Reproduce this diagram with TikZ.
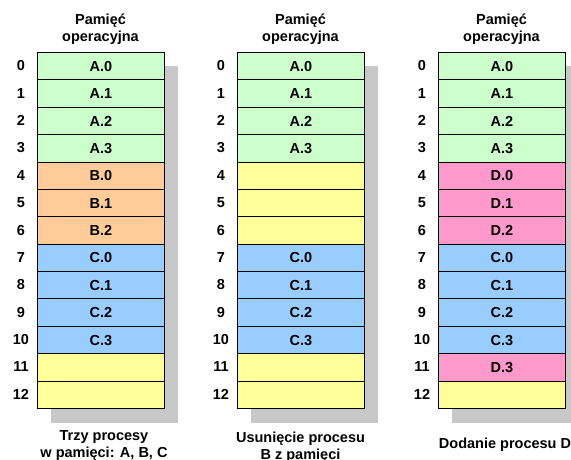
\documentclass[tikz,border=0pt]{standalone}
\usepackage{fontspec}
\setmainfont{Liberation Sans}
\definecolor{grn}{HTML}{CCFFCC}
\definecolor{org}{HTML}{FFCC99}
\definecolor{blu}{HTML}{99CCFF}
\definecolor{yel}{HTML}{FFFF99}
\definecolor{pnk}{HTML}{FF99CC}
\definecolor{shd}{HTML}{C8C8C8}
\newcommand\memcol[3]{%
  \fill[shd] (#2+14,66) rectangle (#2+141,423);
  \foreach \lab/\col [count=\i from 0] in {#3} {
    \node[cell, fill=\col] (#1r\i) at (#2, {52+\i*27.385}) {\lab};
    \node[num] (#1n\i) at (#2-16, {52+(\i+0.5)*27.385}) {\i};
  }
}
\begin{document}
\begin{tikzpicture}[x=1pt,y=-1pt,
  cell/.style={draw=black, line width=1pt, minimum width=127pt, minimum height=27.385pt,
    inner sep=0pt, anchor=north west, font=\bfseries\fontsize{14.5}{16}\selectfont},
  num/.style={inner sep=0pt, font=\bfseries\fontsize{14.5}{16}\selectfont},
  head/.style={align=center, inner sep=0pt, font=\bfseries\fontsize{14.5}{17}\selectfont}]
\useasboundingbox (0,0) rectangle (571,459);
\memcol{a}{37}{A.0/grn,A.1/grn,A.2/grn,A.3/grn,B.0/org,B.1/org,B.2/org,C.0/blu,C.1/blu,C.2/blu,C.3/blu,{}/yel,{}/yel}
\memcol{b}{237}{A.0/grn,A.1/grn,A.2/grn,A.3/grn,{}/yel,{}/yel,{}/yel,C.0/blu,C.1/blu,C.2/blu,C.3/blu,{}/yel,{}/yel}
\memcol{c}{438}{A.0/grn,A.1/grn,A.2/grn,A.3/grn,D.0/pnk,D.1/pnk,D.2/pnk,C.0/blu,C.1/blu,C.2/blu,C.3/blu,D.3/pnk,{}/yel}
\node[head] (ha) at (100.5,29) {Pamięć\\operacyjna};
\node[head] (hb) at (300.5,29) {Pamięć\\operacyjna};
\node[head] (hc) at (501.5,29) {Pamięć\\operacyjna};
\node[head] (capa) at (104,446) {Trzy procesy\\w pamięci: A, B, C};
\node[head] (capb) at (300.5,447) {Usunięcie procesu\\B z pamięci};
\node[head] (capc) at (505,445) {Dodanie procesu D};
\end{tikzpicture}
\end{document}
